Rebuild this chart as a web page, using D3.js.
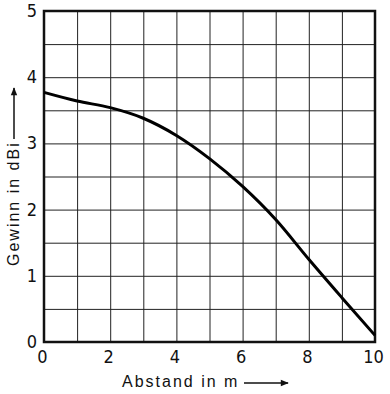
<!DOCTYPE html>
<html>
<head>
<meta charset="utf-8">
<script src="https://cdn.jsdelivr.net/npm/d3@7"></script>
<style>
  body { margin: 0; background: #fff; }
  svg { display: block; }
  .grid line { stroke: #222; stroke-width: 1; }
  .grid path { display: none; }
  .tick-label { font-family: "Liberation Sans Narrow", "DejaVu Sans Condensed", sans-serif; font-size: 18px; fill: #111; }
  .title { font-family: "Liberation Sans", sans-serif; font-size: 16px; letter-spacing: 2px; fill: #111; }
</style>
</head>
<body>
<div class="chart"></div>
<script>
// Gewinn (dBi) ueber Abstand (m)
const abstand = [0, 1, 2, 3, 4, 5, 6, 7, 8, 9, 10]
const gewinn = [3.77, 3.64, 3.54, 3.38, 3.12, 2.77, 2.35, 1.85, 1.25, 0.67, 0.1]
const xTickLabels = [0, 2, 4, 6, 8, 10]
const yTickLabels = [0, 1, 2, 3, 4, 5]

const margin = { top: 11, right: 15, bottom: 52, left: 44 }
const width = 390 - margin.left - margin.right
const height = 394 - margin.top - margin.bottom

const svg = d3.select(".chart")
  .append("svg")
  .attr("width", 390)
  .attr("height", 394)

const g = svg.append("g")
  .attr("transform", "translate(" + margin.left + "," + margin.top + ")")

const x = d3.scaleLinear().domain([0, 10]).range([0, width])
const y = d3.scaleLinear().domain([0, 5]).range([height, 0])

// grid: every 1 m and every 0.5 dBi
g.append("g")
  .attr("class", "grid")
  .attr("transform", "translate(0," + height + ")")
  .call(d3.axisBottom(x).tickValues(d3.range(0, 11, 1)).tickSize(-height).tickFormat(""))

g.append("g")
  .attr("class", "grid")
  .call(d3.axisLeft(y).tickValues(d3.range(0, 5.01, 0.5)).tickSize(-width).tickFormat(""))

// frame
g.append("rect")
  .attr("width", width)
  .attr("height", height)
  .attr("fill", "none")
  .attr("stroke", "#111")
  .attr("stroke-width", 2.5)

// curve
const line = d3.line()
  .x((d, i) => x(abstand[i]))
  .y(d => y(d))
  .curve(d3.curveMonotoneX)

g.append("path")
  .datum(gewinn)
  .attr("d", line)
  .attr("fill", "none")
  .attr("stroke", "#000")
  .attr("stroke-width", 3)

// tick labels
g.selectAll("text.xl")
  .data(xTickLabels)
  .enter()
  .append("text")
  .attr("class", "tick-label")
  .attr("x", d => x(d) - 1.5)
  .attr("y", height + 21)
  .attr("text-anchor", "middle")
  .text(d => d)

g.selectAll("text.yl")
  .data(yTickLabels)
  .enter()
  .append("text")
  .attr("class", "tick-label")
  .attr("x", -12)
  .attr("y", d => y(d) + 6)
  .attr("text-anchor", "middle")
  .text(d => d)

// axis titles with arrows
svg.append("text")
  .attr("class", "title")
  .attr("x", 122)
  .attr("y", 387)
  .text("Abstand in m")

svg.append("defs").append("marker")
  .attr("id", "arrow")
  .attr("viewBox", "0 0 10 10")
  .attr("refX", 9)
  .attr("refY", 5)
  .attr("markerWidth", 10)
  .attr("markerHeight", 8)
  .attr("markerUnits", "userSpaceOnUse")
  .attr("orient", "auto")
  .append("path")
  .attr("d", "M0,1 L10,5 L0,9 Z")
  .attr("fill", "#111")

svg.append("line")
  .attr("x1", 244).attr("y1", 383)
  .attr("x2", 288).attr("y2", 383)
  .attr("stroke", "#111")
  .attr("stroke-width", 1.5)
  .attr("marker-end", "url(#arrow)")

svg.append("text")
  .attr("class", "title")
  .attr("transform", "translate(19,266) rotate(-90)")
  .text("Gewinn in dBi")

svg.append("line")
  .attr("x1", 14).attr("y1", 139)
  .attr("x2", 14).attr("y2", 88)
  .attr("stroke", "#111")
  .attr("stroke-width", 1.5)
  .attr("marker-end", "url(#arrow)")
</script>
</body>
</html>
